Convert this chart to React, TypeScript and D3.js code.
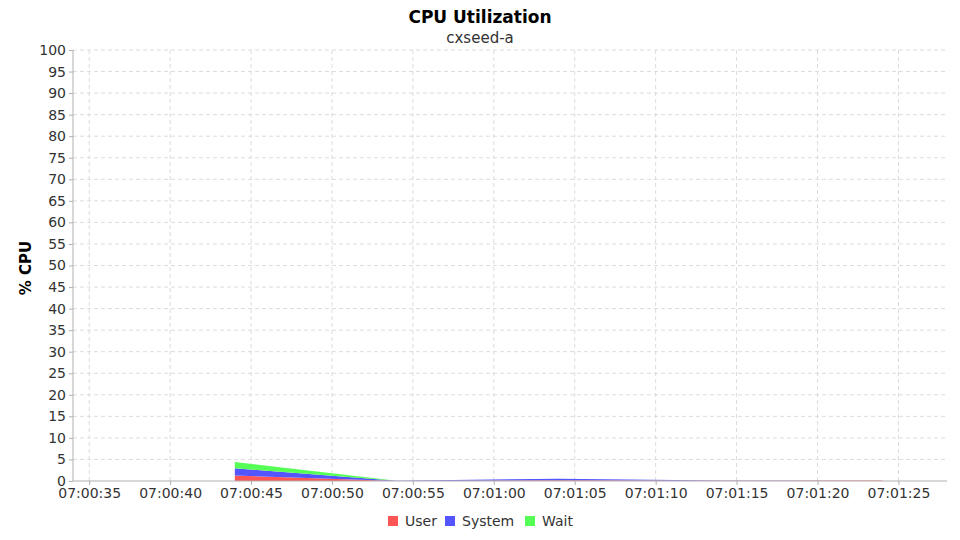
import { useEffect, useRef } from 'react';
import * as d3 from 'd3';

// sample timestamps (seconds after 07:00:00)
const times = [44, 54, 64, 74, 84];
const userVals = [1.25, 0.0, 0.2, 0.05, 0.1];
const systemVals = [1.7, 0.05, 0.35, 0.05, 0.0];
const waitVals = [1.45, 0.0, 0.0, 0.0, 0.0];

const seriesNames = ['User', 'System', 'Wait'];
const seriesColors = ['#ff5555', '#5555ff', '#55ff55'];
const yTicks = d3.range(0, 101, 5);
const xTicks = [35, 40, 45, 50, 55, 60, 65, 70, 75, 80, 85];

const fmtTime = (s: number) => {
  const m = Math.floor(s / 60);
  const sec = s % 60;
  return `07:${String(1 * m).padStart(2, '0')}:${String(sec).padStart(2, '0')}`;
};

const App = () => {
  const svgRef = useRef<SVGSVGElement>(null);

  useEffect(() => {
    const width = 960;
    const height = 540;
    const m = { left: 73, right: 13, top: 50, bottom: 59 };

    const svg = d3.select(svgRef.current);
    svg.selectAll('*').remove();
    svg.attr('width', width).attr('height', height)
      .style('font-family', '"DejaVu Sans", sans-serif');

    svg.append('rect').attr('width', width).attr('height', height).attr('fill', '#fff');

    const x = d3.scaleLinear().domain([34, 88]).range([m.left, width - m.right]);
    const y = d3.scaleLinear().domain([0, 100]).range([height - m.bottom, m.top]);

    // gridlines
    svg.append('g').selectAll('line').data(yTicks.slice(1)).join('line')
      .attr('x1', m.left).attr('x2', width - m.right)
      .attr('y1', d => y(d)).attr('y2', d => y(d))
      .attr('stroke', '#dcdcdc').attr('stroke-dasharray', '4,3');
    svg.append('g').selectAll('line').data(xTicks).join('line')
      .attr('x1', d => x(d)).attr('x2', d => x(d))
      .attr('y1', m.top).attr('y2', height - m.bottom)
      .attr('stroke', '#dcdcdc').attr('stroke-dasharray', '4,3');

    // stacked areas
    const rows = times.map((t, i) => ({ t, User: userVals[i], System: systemVals[i], Wait: waitVals[i] }));
    const stacked = d3.stack<any>().keys(seriesNames)(rows);
    const area = d3.area<any>()
      .x(d => x(d.data.t))
      .y0(d => y(d[0]))
      .y1(d => y(d[1]));
    svg.append('g').selectAll('path').data(stacked).join('path')
      .attr('d', d => area(d))
      .attr('fill', (d, i) => seriesColors[i]);

    // axes
    const yAxis = svg.append('g').attr('transform', `translate(${m.left},0)`)
      .call(d3.axisLeft(y).tickValues(yTicks).tickSize(4).tickPadding(3));
    const xAxis = svg.append('g').attr('transform', `translate(0,${height - m.bottom})`)
      .call(d3.axisBottom(x).tickValues(xTicks).tickFormat(d => fmtTime(d as number)).tickSize(4).tickPadding(3));
    [yAxis, xAxis].forEach(a => {
      a.select('.domain').attr('stroke', '#b0b0b0');
      a.selectAll('.tick line').attr('stroke', '#b0b0b0');
      a.selectAll('text').attr('fill', '#333').style('font-size', '14px')
        .style('font-family', '"DejaVu Sans", sans-serif');
    });
    xAxis.select('.domain').attr('d', `M${m.left},0H${width - m.right}`);
    yAxis.select('.domain').attr('d', `M0,${m.top}V${height - m.bottom}`);

    // titles
    svg.append('text').attr('x', 480).attr('y', 23).attr('text-anchor', 'middle')
      .style('font-size', '17px').style('font-weight', 'bold').text('CPU Utilization');
    svg.append('text').attr('x', 480).attr('y', 43).attr('text-anchor', 'middle')
      .style('font-size', '15px').attr('fill', '#333').text('cxseed-a');
    svg.append('text').attr('transform', 'translate(31,268) rotate(-90)')
      .attr('text-anchor', 'middle').style('font-size', '15px').style('font-weight', 'bold')
      .text('% CPU');

    // legend
    const legendX = [388, 445, 525];
    const lg = svg.append('g').selectAll('g').data(seriesNames).join('g')
      .attr('transform', (d, i) => `translate(${legendX[i]},516)`);
    lg.append('rect').attr('width', 10).attr('height', 10).attr('fill', (d, i) => seriesColors[i]);
    lg.append('text').attr('x', 17).attr('y', 10).style('font-size', '14px').attr('fill', '#333').text(d => d);
  }, []);

  return <svg ref={svgRef} style={{ position: 'absolute', left: 0, top: 0 }}></svg>;
};

export default App;
